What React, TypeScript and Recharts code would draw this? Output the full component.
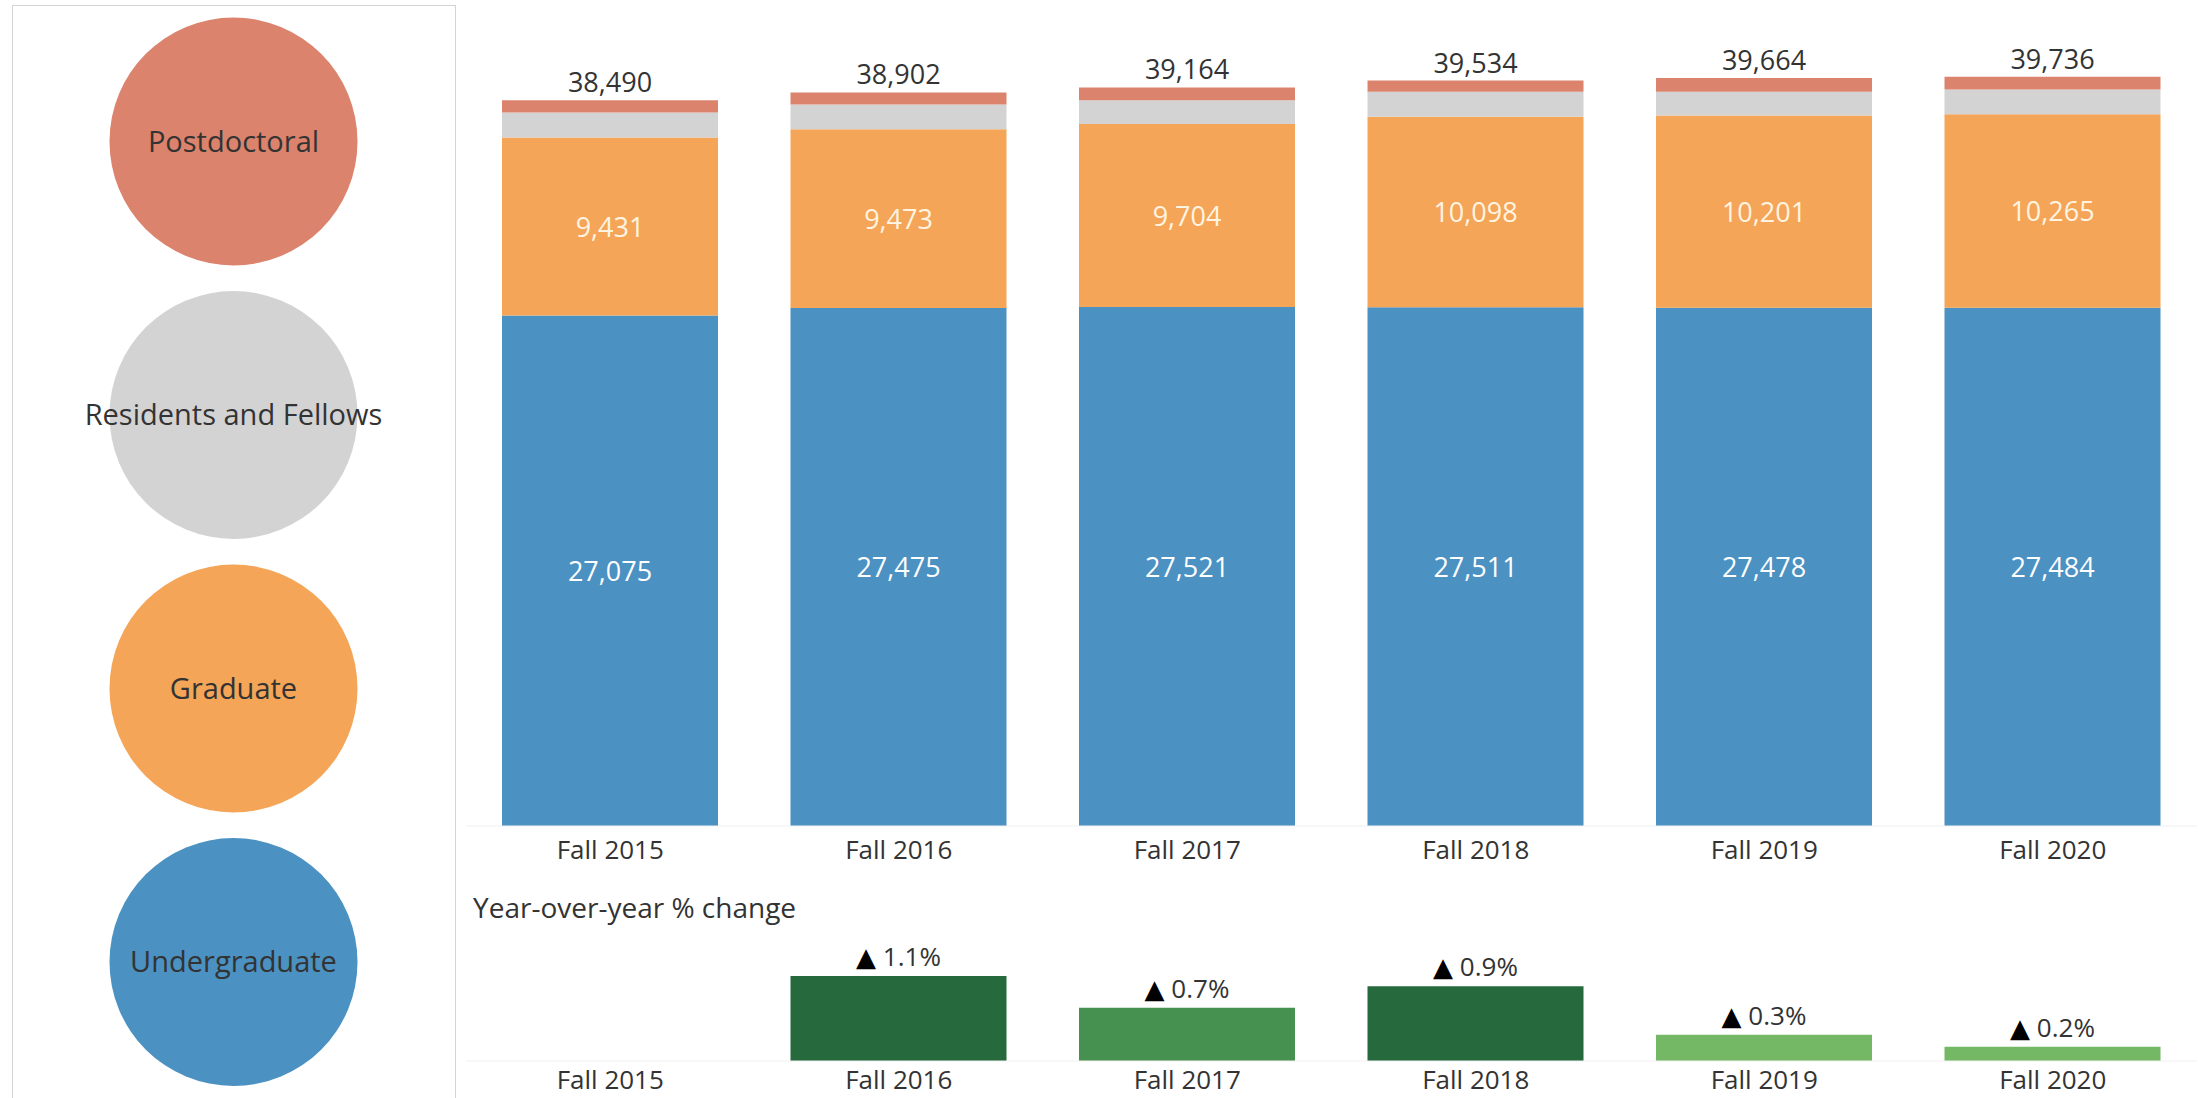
import React from 'react';
import { BarChart, Bar, XAxis, YAxis, LabelList, Cell } from 'recharts';

const categories = ['Fall 2015', 'Fall 2016', 'Fall 2017', 'Fall 2018', 'Fall 2019', 'Fall 2020'];
const undergraduate = [27075, 27475, 27521, 27511, 27478, 27484];
const graduate = [9431, 9473, 9704, 10098, 10201, 10265];
const residents = [1330, 1309, 1257, 1325, 1258, 1313];
const postdoctoral = [654, 645, 682, 600, 727, 674];
const totals = [38490, 38902, 39164, 39534, 39664, 39736];
const yoyChange: (number | null)[] = [null, 1.07, 0.67, 0.94, 0.33, 0.18];
const yoyColors = ['#ffffff', '#25693d', '#46914f', '#25693d', '#74b865', '#74b865'];

const legendLabels = ['Postdoctoral', 'Residents and Fellows', 'Graduate', 'Undergraduate'];
const legendColors = ['#db836c', '#d3d3d3', '#f4a557', '#4b91c2'];

const FONT = '"Open Sans", "Noto Sans", sans-serif';

const mainData = categories.map((c, i) => ({
  name: c,
  undergraduate: undergraduate[i],
  graduate: graduate[i],
  residents: residents[i],
  postdoctoral: postdoctoral[i],
  total: totals[i],
}));

const yoyData = categories.map((c, i) => ({ name: c, change: yoyChange[i] }));

const fmt = (v: number) => v.toLocaleString('en-US');

const makeAxisTick = (offset: number, size: number) => (props: any) => {
  const { x, y, payload } = props;
  return (
    <text x={x} y={y + offset} textAnchor="middle" fontFamily={FONT} fontSize={size} fill="#333">
      {payload.value}
    </text>
  );
};

const MainTick = makeAxisTick(33, 26);
const YoyTick = makeAxisTick(28, 26);

const makeCenterLabel = (color: string) => (props: any) => {
  const { x, y, width, height, value } = props;
  if (value == null) return null;
  return (
    <text
      x={Number(x) + Number(width) / 2}
      y={Number(y) + Number(height) / 2 + 10}
      textAnchor="middle"
      fontFamily={FONT}
      fontSize={27}
      fill={color}
    >
      {fmt(Number(value))}
    </text>
  );
};

const TotalLabel = (props: any) => {
  const { x, y, width, value } = props;
  return (
    <text x={Number(x) + Number(width) / 2} y={Number(y) - 8} textAnchor="middle" fontFamily={FONT} fontSize={27} fill="#333">
      {fmt(Number(value))}
    </text>
  );
};

const YoyLabel = (props: any) => {
  const { x, y, width, value } = props;
  if (value == null) return null;
  return (
    <text x={Number(x) + Number(width) / 2} y={Number(y) - 10} textAnchor="middle" fontFamily={FONT} fontSize={26} fill="#333">
      <tspan fill="#000" fontFamily='"DejaVu Sans", sans-serif' fontSize={26}>▲</tspan>
      <tspan> {Number(value).toFixed(1)}%</tspan>
    </text>
  );
};

const Legend = () => (
  <svg width={466} height={1098} style={{ position: 'absolute', left: 0, top: 0 }}>
    <rect x={12.5} y={5.5} width={443} height={1200} fill="#fff" stroke="#d4d4d4" strokeWidth={1} />
    {legendLabels.map((label, i) => {
      const cy = 141.5 + i * 273.5;
      return (
        <g key={label}>
          <circle cx={233.5} cy={cy} r={124} fill={legendColors[i]} />
          <text x={233.5} y={cy + 10} textAnchor="middle" fontFamily={FONT} fontSize={29} fill="#333">
            {label}
          </text>
        </g>
      );
    })}
  </svg>
);

export default function App() {
  return (
    <div style={{ position: 'absolute', left: 0, top: 0, width: 2198, height: 1098, background: '#fff', overflow: 'hidden' }}>
      <Legend />
      <div style={{ position: 'absolute', left: 0, top: 0 }}>
        <BarChart width={2198} height={880} data={mainData} margin={{ top: 34, right: 1, left: 466, bottom: 14 }} barSize={216}>
          <XAxis
            dataKey="name"
            height={40}
            tickSize={0}
            tickMargin={0}
            tickLine={false}
            axisLine={{ stroke: '#f0f0f0' }}
            tick={<MainTick />}
            interval={0}
          />
          <YAxis width={0} domain={[0, 42000]} tick={false} tickLine={false} axisLine={{ stroke: '#f0f0f0' }} />
          <Bar dataKey="undergraduate" stackId="a" fill="#4b91c2" isAnimationActive={false}>
            <LabelList dataKey="undergraduate" content={makeCenterLabel('#ffffff')} />
          </Bar>
          <Bar dataKey="graduate" stackId="a" fill="#f4a557" isAnimationActive={false}>
            <LabelList dataKey="graduate" content={makeCenterLabel('#fff4e2')} />
          </Bar>
          <Bar dataKey="residents" stackId="a" fill="#d3d3d3" isAnimationActive={false} />
          <Bar dataKey="postdoctoral" stackId="a" fill="#db836c" isAnimationActive={false}>
            <LabelList dataKey="total" content={TotalLabel} />
          </Bar>
        </BarChart>
      </div>
      <svg width={800} height={60} style={{ position: 'absolute', left: 0, top: 880 }}>
        <text x={473} y={38} fontFamily={FONT} fontSize={28} fill="#333">
          Year-over-year % change
        </text>
      </svg>
      <div style={{ position: 'absolute', left: 0, top: 880 }}>
        <BarChart width={2198} height={218} data={yoyData} margin={{ top: 57, right: 1, left: 466, bottom: 0 }} barSize={216}>
          <XAxis
            dataKey="name"
            height={37}
            tickSize={0}
            tickMargin={0}
            tickLine={false}
            axisLine={{ stroke: '#f0f0f0' }}
            tick={<YoyTick />}
            interval={0}
          />
          <YAxis width={0} domain={[0, 1.56]} tick={false} tickLine={false} axisLine={{ stroke: '#f0f0f0' }} />
          <Bar dataKey="change" isAnimationActive={false}>
            {yoyData.map((d, i) => (
              <Cell key={d.name} fill={yoyColors[i]} />
            ))}
            <LabelList dataKey="change" content={YoyLabel} />
          </Bar>
        </BarChart>
      </div>
    </div>
  );
}
